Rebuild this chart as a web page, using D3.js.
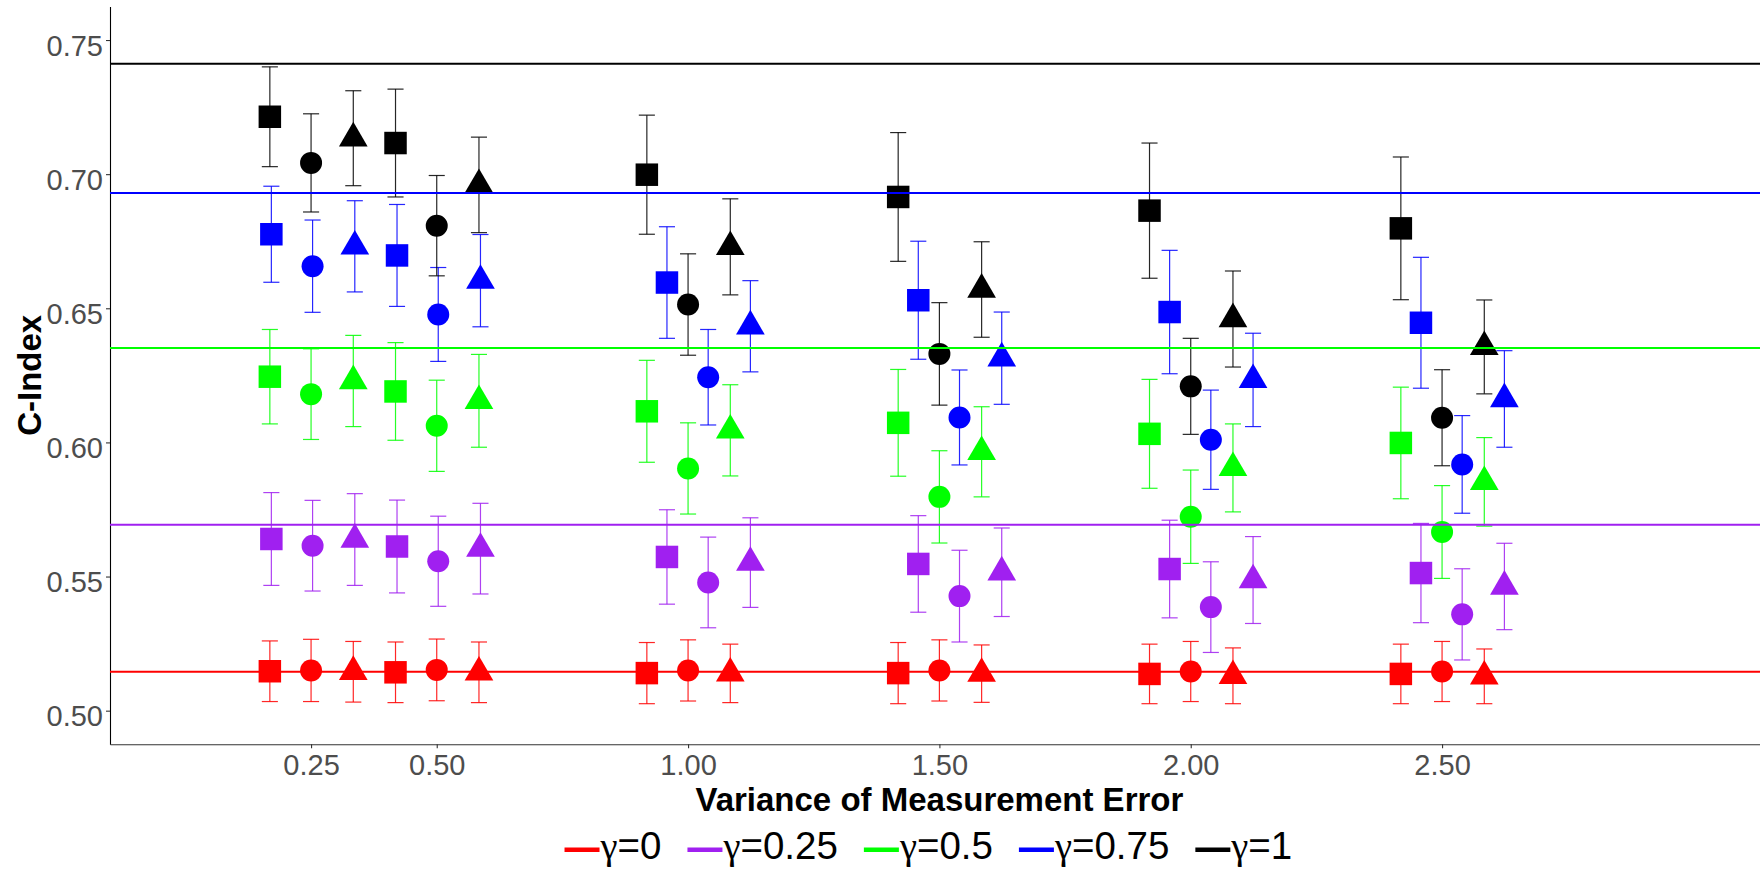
<!DOCTYPE html>
<html>
<head>
<meta charset="utf-8">
<script src="https://cdn.jsdelivr.net/npm/d3@7"></script>
<style>
	body { margin:0; background:#ffffff; }
	svg { display:block; font-family:"Liberation Sans", Arial, sans-serif; }
</style>
</head>
<body>
<div id="mainchart"></div>
<script>
// Datos
// =====
// C-Index por varianza del error de medicion, un arreglo por gamma.
// Cada arreglo: [cuadrado, circulo, triangulo] x varianzas
var variances = [0.25, 0.50, 1.00, 1.50, 2.00, 2.50];
var yTicks = [0.50, 0.55, 0.60, 0.65, 0.70, 0.75];
var gammaLabels = ["0", "0.25", "0.5", "0.75", "1"];
var gammaColors = ["#FF0000", "#A020F0", "#00FF00", "#0000FF", "#000000"];
var shapes = ["square", "circle", "triangle"];
var shapeOffset = [-0.082, 0, 0.084];

// linea horizontal de referencia por gamma
var referenceCIndex = [0.5145, 0.5693, 0.6352, 0.6930, 0.7412];

// pequeño corrimiento en x de algunas series
var shiftG0   = [0, 0, 0, 0, 0, 0];
var shiftG025 = [0.003, 0.003, 0.04, 0.04, 0.04, 0.04];
var shiftG05  = [0, 0, 0, 0, 0, 0];
var shiftG075 = [0.003, 0.003, 0.04, 0.04, 0.04, 0.04];
var shiftG1   = [0, 0, 0, 0, 0, 0];

var meanG0 = [
	[0.5147, 0.5143, 0.5140, 0.5140, 0.5137, 0.5137],
	[0.5150, 0.5152, 0.5150, 0.5150, 0.5146, 0.5146],
	[0.5145, 0.5143, 0.5139, 0.5138, 0.5130, 0.5128]
];
var errG0 = [
	[0.0113, 0.0113, 0.0114, 0.0114, 0.0111, 0.0111],
	[0.0116, 0.0115, 0.0114, 0.0114, 0.0112, 0.0112],
	[0.0113, 0.0113, 0.0109, 0.0107, 0.0104, 0.0102]
];
var meanG025 = [
	[0.5640, 0.5612, 0.5573, 0.5547, 0.5528, 0.5513],
	[0.5615, 0.5557, 0.5478, 0.5427, 0.5386, 0.5359],
	[0.5638, 0.5604, 0.5552, 0.5516, 0.5487, 0.5463]
];
var errG025 = [
	[0.0173, 0.0173, 0.0176, 0.0180, 0.0182, 0.0185],
	[0.0169, 0.0168, 0.0169, 0.0171, 0.0169, 0.0170],
	[0.0171, 0.0169, 0.0167, 0.0165, 0.0162, 0.0161]
];
var meanG05 = [
	[0.6245, 0.6190, 0.6116, 0.6073, 0.6032, 0.5998],
	[0.6180, 0.6062, 0.5903, 0.5797, 0.5723, 0.5666],
	[0.6229, 0.6155, 0.6045, 0.5965, 0.5905, 0.5853]
];
var errG05 = [
	[0.0176, 0.0182, 0.0190, 0.0199, 0.0203, 0.0208],
	[0.0169, 0.0170, 0.0170, 0.0172, 0.0174, 0.0173],
	[0.0170, 0.0173, 0.0170, 0.0168, 0.0164, 0.0165]
];
var meanG075 = [
	[0.6776, 0.6697, 0.6596, 0.6530, 0.6486, 0.6446],
	[0.6657, 0.6477, 0.6243, 0.6093, 0.6010, 0.5918],
	[0.6731, 0.6603, 0.6433, 0.6314, 0.6233, 0.6162]
];
var errG075 = [
	[0.0179, 0.0190, 0.0208, 0.0220, 0.0230, 0.0244],
	[0.0172, 0.0175, 0.0178, 0.0177, 0.0185, 0.0182],
	[0.0170, 0.0172, 0.0170, 0.0172, 0.0174, 0.0180]
];
var meanG1 = [
	[0.7214, 0.7116, 0.6998, 0.6915, 0.6864, 0.6798],
	[0.7042, 0.6808, 0.6514, 0.6330, 0.6209, 0.6092],
	[0.7134, 0.6960, 0.6729, 0.6570, 0.6460, 0.6356]
];
var errG1 = [
	[0.0186, 0.0201, 0.0222, 0.0240, 0.0252, 0.0266],
	[0.0183, 0.0187, 0.0189, 0.0191, 0.0179, 0.0179],
	[0.0177, 0.0178, 0.0179, 0.0178, 0.0179, 0.0175]
];

var allMeans = [meanG0, meanG025, meanG05, meanG075, meanG1];
var allErrs = [errG0, errG025, errG05, errG075, errG1];
var allShifts = [shiftG0, shiftG025, shiftG05, shiftG075, shiftG1];

// Dimensiones
// ===========
var width = 1760, height = 874;
var panel = {left: 110, right: 1768.8, top: 6.5, bottom: 744.2};
var capHalf = 0.016; // media anchura de la barra de error (unidades de x)

var x = d3.scaleLinear().domain([-0.15, 3.15]).range([panel.left, panel.right]);
var y = d3.scaleLinear().domain([0.4875, 0.7625]).range([panel.bottom, panel.top]);

// filas planas para dibujar
var rows = [];
gammaLabels.forEach(function(g, gi) {
	shapes.forEach(function(s, si) {
		variances.forEach(function(v, vi) {
			rows.push({
				gamma: gi,
				shape: s,
				x: v + shapeOffset[si] + allShifts[gi][vi],
				y: allMeans[gi][si][vi],
				e: allErrs[gi][si][vi]
			});
		});
	});
});

var svg = d3.select("#mainchart").append("svg")
	.attr("width", width)
	.attr("height", height);

svg.append("rect").attr("width", width).attr("height", height).attr("fill", "#ffffff");

// Ejes
// ----
var yAxis = svg.append("g")
	.attr("transform", "translate(" + panel.left + ",0)")
	.call(d3.axisLeft(y).tickValues(yTicks).tickFormat(d3.format(".2f")).tickSize(4).tickSizeOuter(0).tickPadding(3));

var xAxis = svg.append("g")
	.attr("transform", "translate(0," + panel.bottom + ")")
	.call(d3.axisBottom(x).tickValues(variances).tickFormat(d3.format(".2f")).tickSize(4).tickSizeOuter(0).tickPadding(7));

[yAxis, xAxis].forEach(function(a) {
	a.select(".domain").attr("stroke", "#000000").attr("stroke-width", 1.1);
	a.selectAll(".tick line").attr("stroke", "#333333").attr("stroke-width", 1.1);
	a.selectAll(".tick text")
		.attr("fill", "#4D4D4D")
		.style("font-size", "29px")
		.style("font-family", "'Liberation Sans', Arial, sans-serif");
});
xAxis.select(".domain").attr("stroke", "#333333");
yAxis.selectAll(".tick text").attr("dy", "0.52em");
xAxis.selectAll(".tick text").attr("dy", "0.7em");

// titulos
svg.append("text")
	.attr("x", (panel.left + panel.right) / 2)
	.attr("y", 811)
	.attr("text-anchor", "middle")
	.style("font-size", "33px")
	.style("font-weight", "bold")
	.text("Variance of Measurement Error");

svg.append("text")
	.attr("transform", "translate(41," + ((panel.top + panel.bottom) / 2) + ") rotate(-90)")
	.attr("text-anchor", "middle")
	.style("font-size", "33px")
	.style("font-weight", "bold")
	.text("C-Index");

// Barras de error
// ---------------
var bars = svg.append("g").selectAll("g.bar")
	.data(rows)
	.enter().append("g")
	.attr("class", "bar")
	.attr("stroke", function(d) { return gammaColors[d.gamma]; })
	.attr("stroke-width", 1.2)
	.attr("stroke-opacity", 0.85);

bars.append("line")
	.attr("x1", function(d) { return x(d.x); })
	.attr("x2", function(d) { return x(d.x); })
	.attr("y1", function(d) { return y(d.y - d.e); })
	.attr("y2", function(d) { return y(d.y + d.e); });
bars.append("line")
	.attr("x1", function(d) { return x(d.x - capHalf); })
	.attr("x2", function(d) { return x(d.x + capHalf); })
	.attr("y1", function(d) { return y(d.y + d.e); })
	.attr("y2", function(d) { return y(d.y + d.e); });
bars.append("line")
	.attr("x1", function(d) { return x(d.x - capHalf); })
	.attr("x2", function(d) { return x(d.x + capHalf); })
	.attr("y1", function(d) { return y(d.y - d.e); })
	.attr("y2", function(d) { return y(d.y - d.e); });

// Puntos
// ------
var sq = 22.5, rad = 11, triW = 28.7, triH = 24.6;
function markerPath(d) {
	var cx = x(d.x), cy = y(d.y);
	if (d.shape == "square") {
		return "M" + (cx - sq/2) + "," + (cy - sq/2) + "h" + sq + "v" + sq + "h" + (-sq) + "Z";
	}
	if (d.shape == "triangle") {
		return "M" + cx + "," + (cy - triH*2/3) +
			"L" + (cx + triW/2) + "," + (cy + triH/3) +
			"L" + (cx - triW/2) + "," + (cy + triH/3) + "Z";
	}
	return "M" + (cx - rad) + "," + cy +
		"a" + rad + "," + rad + " 0 1,0 " + (2*rad) + ",0" +
		"a" + rad + "," + rad + " 0 1,0 " + (-2*rad) + ",0Z";
}

svg.append("g").selectAll("path")
	.data(rows)
	.enter().append("path")
	.attr("d", markerPath)
	.attr("fill", function(d) { return gammaColors[d.gamma]; });

// Lineas de referencia
// --------------------
svg.append("g").selectAll("line")
	.data(referenceCIndex)
	.enter().append("line")
	.attr("x1", panel.left)
	.attr("x2", panel.right)
	.attr("y1", function(d) { return y(d); })
	.attr("y2", function(d) { return y(d); })
	.attr("stroke", function(d, i) { return gammaColors[i]; })
	.attr("stroke-width", 2);

// Leyenda
// -------
var legend = svg.append("g");
var keyLen = 35, itemGap = 26, legendCenter = 928.4, legendY = 849.7;

var items = legend.selectAll("g.item")
	.data(gammaLabels)
	.enter().append("g")
	.attr("class", "item");

items.append("line")
	.attr("x1", 0).attr("x2", keyLen)
	.attr("y1", 0).attr("y2", 0)
	.attr("stroke", function(d, i) { return gammaColors[i]; })
	.attr("stroke-width", 4.6);

var labels = items.append("text")
	.attr("x", keyLen + 1)
	.attr("y", 9.6)
	.style("font-size", "38.5px");
labels.append("tspan")
	.style("font-family", "'Liberation Serif', 'Times New Roman', serif")
	.text("\u03b3");
labels.append("tspan")
	.text(function(d) { return "=" + d; });

// posicion de cada item, centrado en la leyenda
var widths = [];
labels.each(function() { widths.push(keyLen + 1 + this.getComputedTextLength()); });
var total = d3.sum(widths) + itemGap * (widths.length - 1);
var pos = legendCenter - total / 2;
items.attr("transform", function(d, i) {
	var t = "translate(" + pos + "," + legendY + ")";
	pos += widths[i] + itemGap;
	return t;
});
</script>
</body>
</html>
